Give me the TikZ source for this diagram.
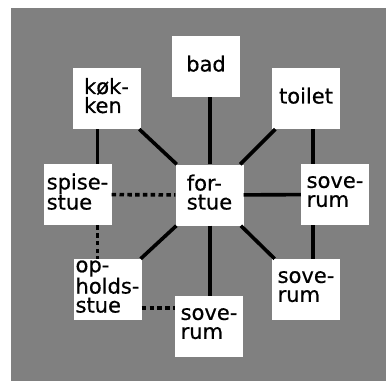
\documentclass[tikz,border=0pt]{standalone}
\usepackage{fontspec}
\setmainfont{DejaVu Sans}
\newfontfamily\roomfont{DejaVu Sans}[UprightFeatures={FakeBold=0.6}]
\definecolor{bggray}{RGB}{128,128,128}
\begin{document}
\begin{tikzpicture}[x=1pt,y=-1pt,
  room/.style={fill=white, minimum width=68pt, minimum height=61pt, inner sep=0pt,
    align=left, font=\roomfont\fontsize{21}{19}\selectfont, text depth=6pt},
  link/.style={line width=3.6pt},
  dlink/.style={line width=3.6pt, dash pattern=on 4.5pt off 3.3pt}]
\fill[white] (0,0) rectangle (386,381);
\fill[bggray] (11,8) rectangle (386,381);
\useasboundingbox (0,0) rectangle (386,381);

\node[room] (bad) at (206,66.5) {bad};
\node[room] (kok) at (106.5,98.5) {køk-\\ken};
\node[room] (toi) at (306,98.5) {toilet};
\node[room] (spi) at (77.5,194.5) {spise-\\stue};
\node[room] (for) at (209.5,195) {for-\\stue};
\node[room] (sv1) at (335,194.5) {sove-\\rum};
\node[room] (oph) at (107.5,289.5) {op-\\holds-\\stue};
\node[room] (sv2) at (209,326.5) {sove-\\rum};
\node[room] (sv3) at (306,289.5) {sove-\\rum};

% solid connectors
\draw[link] ([xshift=0.5pt]for.north) -- ([xshift=0.5pt]for.north |- bad.south);
\draw[link] ([xshift=25pt]kok.south west) coordinate (k1) -- (k1 |- spi.north);
\draw[link] (kok) -- (for);
\draw[link] (toi) -- (for);
\draw[link] ([xshift=41pt]toi.south west) coordinate (t1) -- (t1 |- sv1.north);
\draw[link] (for) -- (sv1);
\draw[link] (for) -- (oph);
\draw[link] ([xshift=0.5pt]for.south) coordinate (f1) -- (f1 |- sv2.north);
\draw[link] (for) -- (sv3);
\draw[link] ([xshift=41pt]sv3.north west) coordinate (s1) -- (s1 |- sv1.south);

% dotted connectors
\draw[dlink] (spi) -- (for);
\draw[dlink] ([xshift=54pt]spi.south west) coordinate (p1) -- (p1 |- oph.north);
\draw[dlink] ([yshift=-18.5pt]oph.east) coordinate (o1) -- (o1 -| sv2.west);
\end{tikzpicture}
\end{document}
